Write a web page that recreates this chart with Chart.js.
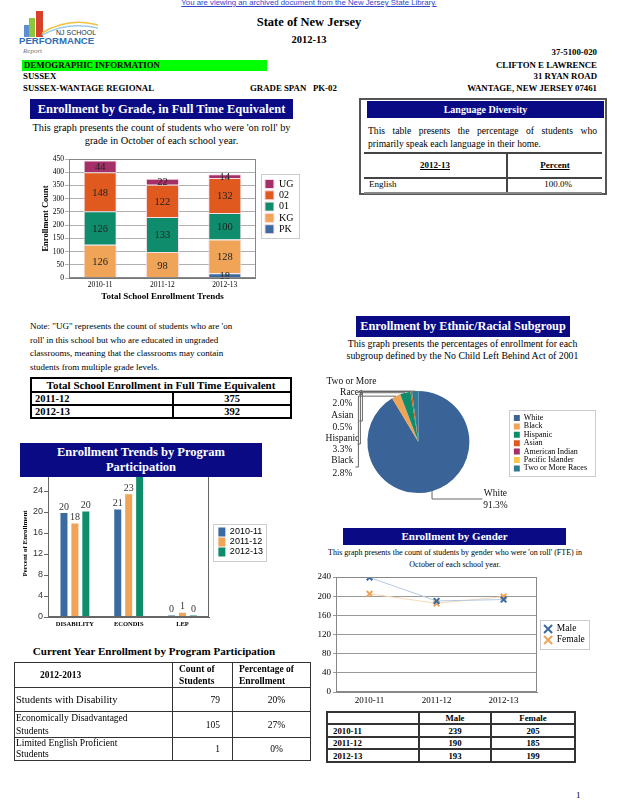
<!DOCTYPE html>
<html><head><meta charset="utf-8">
<script src="https://cdn.jsdelivr.net/npm/chart.js@4.4.1/dist/chart.umd.min.js"></script>
<style>
body{margin:0;width:618px;height:800px;position:relative;background:#fff;font-family:"Liberation Serif","Times New Roman",serif;color:#000;overflow:hidden}
.a{position:absolute;white-space:nowrap}
.b{font-weight:bold}
.hdr{position:absolute;background:#0a0a84;color:#fff;font-weight:bold;text-align:center;z-index:5;white-space:nowrap}
canvas{display:block}
.cv{position:absolute}
table{border-collapse:collapse;position:absolute;table-layout:fixed}
td{padding:0;overflow:hidden}
</style></head><body>
<script>
// ---------- DATA ----------
const gradeYears = ['2010-11', '2011-12', '2012-13'];
const gradePK = [0, 0, 18];
const gradeKG = [126, 98, 128];
const grade01 = [126, 133, 100];
const grade02 = [148, 122, 132];
const gradeUG = [44, 22, 14];

const programCats = ['DISABILITY', 'ECONDIS', 'LEP'];
const program1011 = [19.8, 20.5, 0.3];
const program1112 = [17.8, 23.4, 0.8];
const program1213 = [20.1, 26.8, 0.3];

const ethnicLabels = ['White', 'Black', 'Hispanic', 'Asian', 'American Indian', 'Pacific Islander', 'Two or More Races'];
const ethnicValues = [91.3, 2.8, 3.3, 0.5, 0, 0, 2.0];

const genderYears = ['2010-11', '2011-12', '2012-13'];
const genderMale = [239, 190, 193];
const genderFemale = [205, 185, 199];
</script>

<div class="a" style="left:0;width:618px;top:-2px;text-align:center;font-family:'Liberation Sans',Arial,sans-serif;font-size:7.8px;color:#3344cc;text-decoration:underline">You are viewing an archived document from the New Jersey State Library.</div>

<svg class="a" style="left:18px;top:9px" width="80" height="48">
 <rect x="6" y="16" width="5" height="12" fill="#5b8fd0"/>
 <rect x="11" y="9" width="6" height="19" fill="#8cc63f"/>
 <rect x="18" y="2" width="7" height="26" fill="#d9402b"/>
 <path d="M24 24 Q50 8 80 16" stroke="#f3c03c" fill="none" stroke-width="1.5"/>
 <path d="M24 26 Q50 12 80 19" stroke="#9ccbe8" fill="none" stroke-width="1.5"/>
 <text x="38" y="26" font-size="7" fill="#333" font-family="Liberation Sans">NJ SCHOOL</text>
 <text x="1" y="35" font-size="9.6" font-weight="bold" fill="#2f6db5" font-family="Liberation Sans">PERFORMANCE</text>
 <text x="5" y="44" font-size="7" font-style="italic" fill="#777" font-family="Liberation Serif">Report</text>
</svg>

<div class="a b" style="left:0;width:618px;top:15px;text-align:center;font-size:12.5px">State of New Jersey</div>
<div class="a b" style="left:0;width:618px;top:34px;text-align:center;font-size:10.5px">2012-13</div>
<div class="a b" style="right:21px;top:47px;font-size:8.8px">37-5100-020</div>
<div class="a b" style="left:22px;top:60px;width:243px;height:11px;background:#00ff00;font-size:8.8px;line-height:11px;padding-left:2px">DEMOGRAPHIC INFORMATION</div>
<div class="a b" style="right:21px;top:60px;font-size:8.8px">CLIFTON E LAWRENCE</div>
<div class="a b" style="left:23px;top:71px;font-size:8.8px">SUSSEX</div>
<div class="a b" style="right:21px;top:71px;font-size:8.8px">31 RYAN ROAD</div>
<div class="a b" style="left:23px;top:83px;font-size:8.8px">SUSSEX-WANTAGE REGIONAL</div>
<div class="a b" style="left:250px;top:83px;font-size:8.8px">GRADE SPAN &nbsp;&nbsp;PK-02</div>
<div class="a b" style="right:21px;top:83px;font-size:8.8px">WANTAGE, NEW JERSEY 07461</div>

<!-- Enrollment by grade -->
<div class="hdr" style="left:30px;top:99px;width:263px;height:20px;line-height:20px;font-size:12.5px">Enrollment by Grade, in Full Time Equivalent</div>
<div class="a" style="left:30px;width:263px;top:122px;text-align:center;font-size:10.3px;line-height:12.5px">This graph presents the count of students who were 'on roll' by<br>grade in October of each school year.</div>
<canvas id="gradeChart" class="cv" style="left:20px;top:150px;width:290px;height:156px" width="290" height="156"></canvas>

<!-- Language diversity -->
<div class="a" style="left:359px;top:98px;width:244px;height:93px;border:2px solid #555"></div>
<div class="hdr" style="left:367px;top:101px;width:237px;height:17px;line-height:17px;font-size:10px">Language Diversity</div>
<div class="a" style="left:368px;top:124px;width:229px;font-size:9.6px;line-height:13px;white-space:normal;text-align:justify;text-align-last:left">This table presents the percentage of students who primarily speak each language in their home.</div>
<div class="a" style="left:364px;top:152px;width:238px;height:2px;background:#444"></div>
<div class="a" style="left:506px;top:152px;width:2px;height:42px;background:#444"></div>
<div class="a b" style="left:364px;width:142px;top:160px;text-align:center;font-size:9px;text-decoration:underline">2012-13</div>
<div class="a b" style="left:508px;width:94px;top:160px;text-align:center;font-size:9px;text-decoration:underline">Percent</div>
<div class="a" style="left:364px;top:177px;width:238px;height:2px;background:#444"></div>
<div class="a" style="left:369px;top:179px;font-size:9px">English</div>
<div class="a" style="left:508px;width:100px;top:179px;text-align:center;font-size:9px">100.0%</div>
<div class="a" style="left:364px;top:192px;width:238px;height:2px;background:#888"></div>

<!-- Note -->
<div class="a" style="left:30px;top:320px;font-size:9px;line-height:13.5px">Note: "UG" represents the count of students who are 'on<br>roll' in this school but who are educated in ungraded<br>classrooms, meaning that the classrooms may contain<br>students from multiple grade levels.</div>

<table style="left:30px;top:377px;width:262px;border:2px solid #000;font-weight:bold;font-size:10.5px">
<colgroup><col style="width:142px"><col></colgroup>
<tr><td colspan="2" style="text-align:center;font-size:11px;height:12px;line-height:12px;border-bottom:2px solid #000">Total School Enrollment in Full Time Equivalent</td></tr>
<tr><td style="height:11px;line-height:11px;border-right:2px solid #000;border-bottom:2px solid #000;padding-left:3px">2011-12</td><td style="text-align:center;border-bottom:2px solid #000">375</td></tr>
<tr><td style="height:11px;line-height:11px;border-right:2px solid #000;padding-left:3px">2012-13</td><td style="text-align:center">392</td></tr>
</table>

<!-- Ethnic -->
<div class="hdr" style="left:356px;top:316px;width:214px;height:21px;line-height:21px;font-size:12.3px">Enrollment by Ethnic/Racial Subgroup</div>
<div class="a" style="left:330px;width:265px;top:338px;text-align:center;font-size:9.8px;line-height:12px">This graph presents the percentages of enrollment for each<br>subgroup defined by the No Child Left Behind Act of 2001</div>
<canvas id="ethnicChart" class="cv" style="left:320px;top:372px;width:285px;height:142px" width="285" height="142"></canvas>

<!-- Program -->
<div class="hdr" style="left:20px;top:443px;width:242px;height:34px;font-size:12.5px;line-height:15px;padding-top:2px;box-sizing:border-box">Enrollment Trends by Program<br>Participation</div>
<canvas id="programChart" class="cv" style="left:10px;top:460px;width:266px;height:180px" width="266" height="180"></canvas>

<!-- Gender -->
<div class="hdr" style="left:343px;top:528px;width:223px;height:17px;line-height:17px;font-size:11px">Enrollment by Gender</div>
<div class="a" style="left:310px;width:290px;top:547px;text-align:center;font-size:8px;line-height:11.5px;color:#000">This graph presents the count of students by gender who were 'on roll' (FTE) in<br>October of each school year.</div>
<canvas id="genderChart" class="cv" style="left:305px;top:568px;width:295px;height:140px" width="295" height="140"></canvas>

<table style="left:326px;top:711px;width:250px;border:2px solid #333;font-weight:bold;font-size:8.8px">
<colgroup><col style="width:92px"><col style="width:72px"><col></colgroup>
<tr style="height:12px"><td style="border:2px solid #333"></td><td style="border:2px solid #333;text-align:center">Male</td><td style="border:2px solid #333;text-align:center">Female</td></tr>
<tr style="height:13px"><td style="border:2px solid #333;padding-left:5px">2010-11</td><td style="border:2px solid #333;text-align:center">239</td><td style="border:2px solid #333;text-align:center">205</td></tr>
<tr style="height:12px"><td style="border:2px solid #333;padding-left:5px">2011-12</td><td style="border:2px solid #333;text-align:center">190</td><td style="border:2px solid #333;text-align:center">185</td></tr>
<tr style="height:13px"><td style="border:2px solid #333;padding-left:5px">2012-13</td><td style="border:2px solid #333;text-align:center">193</td><td style="border:2px solid #333;text-align:center">199</td></tr>
</table>

<!-- Current year -->
<div class="a b" style="left:14px;width:280px;top:645px;text-align:center;font-size:11px">Current Year Enrollment by Program Participation</div>
<table style="left:14px;top:662px;width:297px;border:1.5px solid #333;font-size:10.5px">
<colgroup><col style="width:158px"><col style="width:60px"><col></colgroup>
<tr style="height:25px"><td class="b" style="border:1px solid #333;padding-left:25px;font-size:9.5px">2012-2013</td><td class="b" style="border:1px solid #333;padding-left:6px;font-size:9.5px;line-height:12px;white-space:nowrap">Count of<br>Students</td><td class="b" style="border:1px solid #333;padding-left:6px;font-size:9.5px;line-height:12px;white-space:nowrap">Percentage of<br>Enrollment</td></tr>
<tr style="height:24px"><td style="border:1px solid #333;padding-left:1px;white-space:nowrap">Students with Disability</td><td style="border:1px solid #333;text-align:right;padding-right:12px;font-size:9.5px">79</td><td style="border:1px solid #333;text-align:center;padding-left:10px;font-size:9.5px">20%</td></tr>
<tr style="height:26px"><td style="border:1px solid #333;padding-left:1px;font-size:9.5px;line-height:12.5px;white-space:nowrap">Economically Disadvantaged<br>Students</td><td style="border:1px solid #333;text-align:right;padding-right:12px;font-size:9.5px">105</td><td style="border:1px solid #333;text-align:center;padding-left:10px;font-size:9.5px">27%</td></tr>
<tr style="height:21px"><td style="border:1px solid #333;padding-left:1px;font-size:9.5px;line-height:11px;white-space:nowrap">Limited English Proficient<br>Students</td><td style="border:1px solid #333;text-align:right;padding-right:12px;font-size:9.5px">1</td><td style="border:1px solid #333;text-align:center;padding-left:10px;font-size:9.5px">0%</td></tr>
</table>

<div class="a" style="left:576px;top:790px;font-size:9px">1</div>

<script>
Chart.defaults.font.family = "'Liberation Serif','Times New Roman',serif";
Chart.defaults.color = '#000';
Chart.defaults.animation = false;

const frame = {id:'frame', afterDraw(c, a, o){
  if(!o || !o.color) return;
  const {left, top, width, height} = c.chartArea; const ctx = c.ctx;
  ctx.save(); ctx.strokeStyle = o.color; ctx.lineWidth = o.width || 1;
  ctx.strokeRect(Math.round(left)+0.5, Math.round(top)+0.5, Math.round(width)-1, Math.round(height)-1);
  ctx.restore();
}};
const legendBox = {id:'legendBox', afterDraw(c, a, o){
  const l = c.legend; if(!l || !l.legendHitBoxes || !l.legendHitBoxes.length) return;
  let x0=1e9,y0=1e9,x1=-1e9,y1=-1e9;
  l.legendHitBoxes.forEach(h=>{x0=Math.min(x0,h.left);y0=Math.min(y0,h.top);x1=Math.max(x1,h.left+h.width);y1=Math.max(y1,h.top+h.height);});
  const p = o.pad || [4,4,4,4];
  const ctx = c.ctx; ctx.save();
  ctx.strokeStyle = o.color || '#ccc'; ctx.lineWidth = 1;
  ctx.strokeRect(Math.round(x0-p[0])+0.5, Math.round(y0-p[1])+0.5, Math.round(x1-x0+p[0]+p[2]), Math.round(y1-y0+p[1]+p[3]));
  ctx.restore();
}};
const barLabels = {id:'barLabels', afterDatasetsDraw(c, a, o){
  if(!o || !o.mode) return;
  const ctx = c.ctx; ctx.save(); ctx.font = o.font; ctx.fillStyle = o.color; ctx.textAlign = 'center';
  c.data.datasets.forEach((ds,i)=>{
    const meta = c.getDatasetMeta(i);
    meta.data.forEach((el,j)=>{
      const v = ds.data[j];
      if(o.mode === 'inside'){
        if(!v) return;
        ctx.textBaseline = 'middle';
        ctx.fillText(String(v), el.x, (el.y + el.base)/2 + 1);
      } else {
        ctx.textBaseline = 'bottom';
        ctx.fillText(String(Math.round(v)), el.x, el.y - 1);
      }
    });
  });
  ctx.restore();
}};
const pieLeaders = {id:'pieLeaders', afterDraw(c, a, o){
  if(!o || !o.items) return;
  const meta = c.getDatasetMeta(0); const ctx = c.ctx;
  const e0 = meta.data[0]; const cx = e0.x, cy = e0.y, r = e0.outerRadius;
  ctx.save();
  ctx.strokeStyle = '#666'; ctx.lineWidth = 1;
  ctx.font = o.font; ctx.fillStyle = '#111'; ctx.textAlign = 'center'; ctx.textBaseline = 'middle';
  o.items.forEach(it=>{
    const el = meta.data[it.index];
    const mid = (el.startAngle + el.endAngle)/2;
    const px = cx + r*Math.cos(mid), py = cy + r*Math.sin(mid);
    ctx.beginPath();
    ctx.moveTo(px, py);
    if(it.side === 'left'){
      const vx = cx + it.vx;
      ctx.lineTo(vx, py); ctx.lineTo(vx, cy + it.ly); ctx.lineTo(vx - 3, cy + it.ly);
    } else {
      ctx.lineTo(px, cy + it.ly); ctx.lineTo(cx + it.vx, cy + it.ly);
    }
    ctx.stroke();
    const pct = (c.data.datasets[0].data[it.index]).toFixed(1) + '%';
    it.lines.forEach((t, k)=>{
      const txt = t === '%' ? pct : t;
      ctx.fillText(txt, cx + it.tx[k], cy + it.ty[k]);
    });
  });
  ctx.restore();
}};
function spacer(w){ return {type:'linear', position:'right', display:true, grid:{display:false, drawTicks:false}, border:{display:false}, ticks:{display:false}, afterFit(s){ s.width = w; }}; }
function legendTitle(pad){ return {display:true, text:'', font:{size:1}, padding:{top:pad, bottom:0}}; }

// Grade chart
new Chart(document.getElementById('gradeChart'), {
  type: 'bar',
  data: { labels: gradeYears, datasets: [
    {label:'PK', data: gradePK, backgroundColor:'#3b6aa0'},
    {label:'KG', data: gradeKG, backgroundColor:'#f0a457'},
    {label:'01', data: grade01, backgroundColor:'#0f8c6c'},
    {label:'02', data: grade02, backgroundColor:'#e0591f'},
    {label:'UG', data: gradeUG, backgroundColor:'#a52f69'}
  ].map(d=>Object.assign(d,{borderColor:'#f6dde4', borderWidth:1, categoryPercentage:1, barPercentage:0.53})) },
  options: {
    responsive:false, animation:false,
    layout:{padding:{left:21, top:9, right:6.6, bottom:0}},
    scales:{
      x:{stacked:true, grid:{display:false, drawTicks:false}, border:{color:'#777'},
         ticks:{font:{size:7.5}, padding:3, color:'#000'},
         title:{display:true, text:'Total School Enrollment Trends', font:{size:9, weight:'bold'}, padding:{top:0,bottom:4}, color:'#000'},
         afterFit(s){ s.height = 28; }},
      y:{stacked:true, min:0, max:450, ticks:{stepSize:50, font:{size:7.5}, padding:1, color:'#000'},
         grid:{color:'#b0b0b0', tickLength:4}, border:{color:'#777'},
         title:{display:true, text:'Enrollment Count', font:{size:8.5, weight:'bold'}, padding:{top:0,bottom:0}, color:'#000'},
         afterFit(s){ s.width = 28; }},
      gap: spacer(7.7)
    },
    plugins:{
      legend:{position:'right', align:'start', reverse:true, maxWidth:120, title:legendTitle(17.5), labels:{boxWidth:9, boxHeight:9, padding:1.3, font:{size:10}, color:'#000'}},
      tooltip:{enabled:false},
      frame:{color:'#888'},
      legendBox:{pad:[4,5,6,4], color:'#ccc'},
      barLabels:{mode:'inside', font:'10.5px "Liberation Serif"', color:'#222'}
    }
  },
  plugins:[frame, legendBox, barLabels]
});

// Ethnic pie
new Chart(document.getElementById('ethnicChart'), {
  type: 'pie',
  data: { labels: ethnicLabels, datasets: [{ data: ethnicValues,
    backgroundColor:['#3a6397','#f0a457','#0f8c6c','#e0591f','#a52f69','#f7c94b','#2e7b96'], borderWidth:0 }] },
  options: {
    responsive:false, animation:false,
    layout:{padding:{left:3.4, top:19, right:8, bottom:21}},
    plugins:{
      legend:{position:'right', align:'start', maxWidth:150, title:legendTitle(21.4), labels:{boxWidth:6, boxHeight:6, padding:0.4, font:{size:8}, color:'#000'}},
      tooltip:{enabled:false},
      legendBox:{pad:[5,4,8,4], color:'#ccc'},
      pieLeaders:{font:'9.5px "Liberation Serif"', items:[
        {index:6, side:'left', vx:-57, ly:-50, lines:['Two or More','Races','%'], tx:[-67,-67,-76], ty:[-61,-50,-39]},
        {index:3, side:'left', vx:-56, ly:-21, lines:['Asian','%'], tx:[-76,-76], ty:[-27,-15]},
        {index:2, side:'left', vx:-58, ly:2, lines:['Hispanic','%'], tx:[-76,-76], ty:[-4,7]},
        {index:1, side:'left', vx:-60, ly:25, lines:['Black','%'], tx:[-76,-76], ty:[18,31]},
        {index:0, side:'bottom', vx:64, ly:57, lines:['White','%'], tx:[77,77], ty:[51,63]}
      ]}
    }
  },
  plugins:[legendBox, pieLeaders]
});

// Program chart
new Chart(document.getElementById('programChart'), {
  type: 'bar',
  data: { labels: programCats, datasets: [
    {label:'2010-11', data: program1011, backgroundColor:'#3b6aa0'},
    {label:'2011-12', data: program1112, backgroundColor:'#f0a457'},
    {label:'2012-13', data: program1213, backgroundColor:'#0f8c6c'}
  ].map(d=>Object.assign(d,{categoryPercentage:0.61, barPercentage:0.64})) },
  options: {
    responsive:false, animation:false,
    layout:{padding:{left:11, top:10, right:3.1, bottom:0}},
    scales:{
      x:{grid:{display:false, drawTicks:false}, border:{color:'#666'},
         ticks:{font:{size:6.5, weight:'bold'}, padding:3, color:'#000'},
         afterFit(s){ s.height = 23; }},
      y:{min:0, max:28, ticks:{stepSize:4, font:{size:9, family:"'Liberation Sans',Arial,sans-serif"}, padding:1, color:'#333'},
         grid:{display:true, drawOnChartArea:false, tickLength:4, color:'#666'}, border:{color:'#666'},
         title:{display:true, text:'Percent of Enrollment', font:{size:7, weight:'bold'}, padding:{top:0,bottom:0}, color:'#000'},
         afterFit(s){ s.width = 27; }},
      gap: spacer(8)
    },
    plugins:{
      legend:{position:'right', align:'start', maxWidth:120, title:legendTitle(55.3), labels:{boxWidth:7, boxHeight:9, padding:1, font:{size:9, family:"'Liberation Sans',Arial,sans-serif"}, color:'#000'}},
      tooltip:{enabled:false},
      frame:{color:'#666'},
      legendBox:{pad:[5,4,3,4], color:'#ccc'},
      barLabels:{mode:'above', font:'10px "Liberation Serif"', color:'#333'}
    }
  },
  plugins:[frame, legendBox, barLabels]
});

// Gender chart
new Chart(document.getElementById('genderChart'), {
  type: 'line',
  data: { labels: genderYears, datasets: [
    {label:'Male', data: genderMale, borderColor:'#b4c8e2', pointBorderColor:'#3b6aa0', pointBackgroundColor:'#3b6aa0', pointStyle:'crossRot', pointRadius:4, pointBorderWidth:2, borderWidth:1},
    {label:'Female', data: genderFemale, borderColor:'#f8d8b4', pointBorderColor:'#f0a457', pointBackgroundColor:'#f0a457', pointStyle:'crossRot', pointRadius:4, pointBorderWidth:2, borderWidth:1}
  ] },
  options: {
    responsive:false, animation:false,
    layout:{padding:{left:0, top:9, right:5.2, bottom:0}},
    scales:{
      x:{offset:true, grid:{display:false, drawTicks:false}, border:{color:'#888'},
         ticks:{font:{size:9}, padding:3.5, color:'#000'},
         afterFit(s){ s.height = 16; }},
      y:{min:0, max:240, ticks:{stepSize:40, font:{size:9}, padding:2, color:'#000'},
         grid:{color:'#999', tickLength:3}, border:{color:'#888'},
         afterFit(s){ s.width = 31; }},
      gap: spacer(5.5)
    },
    plugins:{
      legend:{position:'right', align:'start', maxWidth:120, title:legendTitle(44.5), labels:{usePointStyle:true, boxWidth:8, boxHeight:8, padding:1.5, font:{size:9.5}, color:'#000'}},
      tooltip:{enabled:false},
      frame:{color:'#888'},
      legendBox:{pad:[4,4,4,4], color:'#ccc'}
    }
  },
  plugins:[frame, legendBox]
});
</script>
</body></html>
